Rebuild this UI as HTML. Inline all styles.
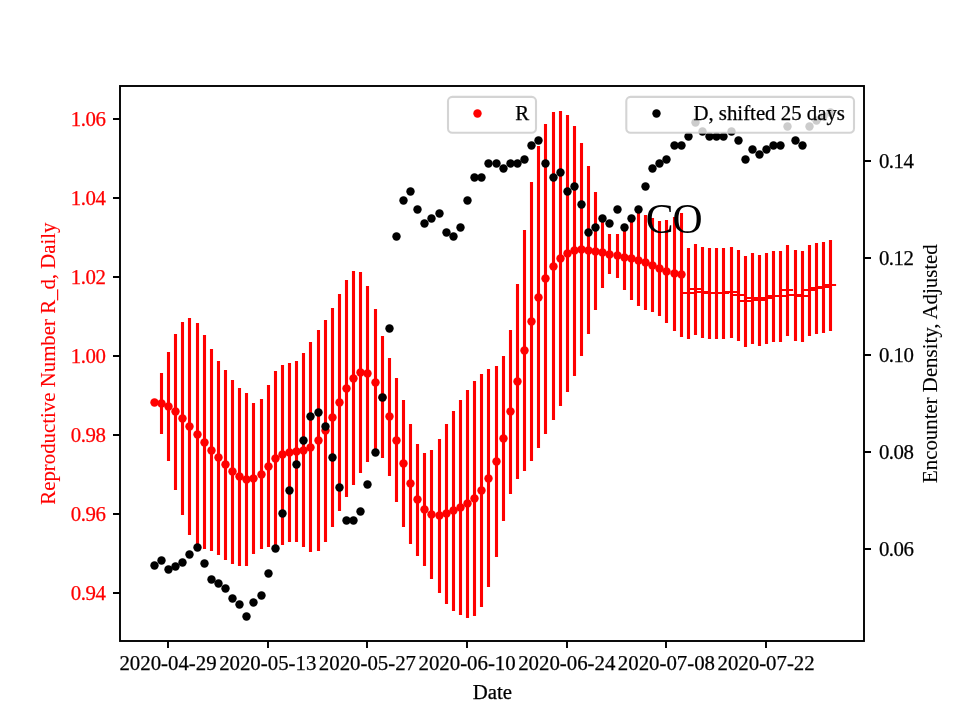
<!DOCTYPE html>
<html><head><meta charset="utf-8"><title>chart</title>
<style>
html,body{margin:0;padding:0;background:#fff;}
body{width:960px;height:720px;overflow:hidden;}
svg{display:block;will-change:transform;}
svg text{font-family:"Liberation Serif",serif;stroke-width:0.25px;paint-order:stroke;}
</style></head><body>
<svg width="960" height="720" viewBox="0 0 960 720">
<rect width="960" height="720" fill="#fff"/>
<path d="M161.50 373V434M168.50 352V461M175.50 334V490M182.50 322V515M189.50 318V535M197.50 323V546M204.50 335V549M211.50 349V551M218.50 361V555M225.50 370V560M232.50 380V564M239.50 388V566M246.50 393V566M253.50 403V554M261.50 399V549M268.50 385V547M275.50 371V546M282.50 365V545M289.50 363V542M296.50 361V542M303.50 353V547M310.50 342V552M318.50 330V551M325.50 320V542M332.50 308V527M339.50 294V511M346.50 280V497M353.50 271V485M360.50 272V473M367.50 286V462M375.50 309V456M382.50 336V458M389.50 358V476M396.50 378V502M403.50 400V527M410.50 424V544M417.50 444V556M424.50 453V566M431.50 450V579M439.50 439V593M446.50 424V604M453.50 411V611M460.50 400V615M467.50 390V618M474.50 381V616M481.50 374V607M488.50 369V587M496.50 366V557M503.50 356V521M510.50 330V494M517.50 284V479M524.50 230V471M531.50 182V461M538.50 146V448M545.50 124V434M553.50 112V420M560.50 111V406M567.50 115V392M574.50 126V376M581.50 143V356M588.50 166V334M595.50 192V310M602.50 220V288M609.50 234V274M617.50 234V278M624.50 225V290M631.50 218V300M638.50 213V306M645.50 215V310M652.50 218V312M659.50 221V316M666.50 220V323M674.50 217V331M681.50 213V337M688.50 248.00V339.00M695.50 244.00V335.00M702.50 247.00V338.00M709.50 248.00V339.00M716.50 248.00V339.00M723.50 248.00V339.00M731.50 247.00V338.00M738.50 250.00V341.00M745.50 256.00V347.00M752.50 253.00V344.00M759.50 255.00V346.00M766.50 253.00V344.00M773.50 251.00V342.00M780.50 251.00V342.00M787.50 245.00V336.00M795.50 250.00V341.00M802.50 251.00V342.00M809.50 245.00V336.00M816.50 243.00V334.00M823.50 242.00V333.00M830.50 240.00V331.00" stroke="#ff0000" stroke-width="3.1" fill="none"/>
<g fill="#ff0000">
<circle cx="154.50" cy="402.50" r="4.2"/>
<circle cx="161.50" cy="403.50" r="4.2"/>
<circle cx="168.50" cy="406.50" r="4.2"/>
<circle cx="175.50" cy="411.50" r="4.2"/>
<circle cx="182.50" cy="418.50" r="4.2"/>
<circle cx="189.50" cy="426.50" r="4.2"/>
<circle cx="197.50" cy="434.50" r="4.2"/>
<circle cx="204.50" cy="442.50" r="4.2"/>
<circle cx="211.50" cy="450.50" r="4.2"/>
<circle cx="218.50" cy="457.50" r="4.2"/>
<circle cx="225.50" cy="464.50" r="4.2"/>
<circle cx="232.50" cy="471.50" r="4.2"/>
<circle cx="239.50" cy="476.50" r="4.2"/>
<circle cx="246.50" cy="479.50" r="4.2"/>
<circle cx="253.50" cy="478.50" r="4.2"/>
<circle cx="261.50" cy="474.50" r="4.2"/>
<circle cx="268.50" cy="466.50" r="4.2"/>
<circle cx="275.50" cy="458.50" r="4.2"/>
<circle cx="282.50" cy="454.50" r="4.2"/>
<circle cx="289.50" cy="452.50" r="4.2"/>
<circle cx="296.50" cy="451.50" r="4.2"/>
<circle cx="303.50" cy="450.50" r="4.2"/>
<circle cx="310.50" cy="447.50" r="4.2"/>
<circle cx="318.50" cy="440.50" r="4.2"/>
<circle cx="325.50" cy="430.50" r="4.2"/>
<circle cx="332.50" cy="417.50" r="4.2"/>
<circle cx="339.50" cy="402.50" r="4.2"/>
<circle cx="346.50" cy="388.50" r="4.2"/>
<circle cx="353.50" cy="378.50" r="4.2"/>
<circle cx="360.50" cy="372.50" r="4.2"/>
<circle cx="367.50" cy="373.50" r="4.2"/>
<circle cx="375.50" cy="382.50" r="4.2"/>
<circle cx="382.50" cy="397.50" r="4.2"/>
<circle cx="389.50" cy="416.50" r="4.2"/>
<circle cx="396.50" cy="440.50" r="4.2"/>
<circle cx="403.50" cy="463.50" r="4.2"/>
<circle cx="410.50" cy="483.50" r="4.2"/>
<circle cx="417.50" cy="499.50" r="4.2"/>
<circle cx="424.50" cy="509.50" r="4.2"/>
<circle cx="431.50" cy="514.50" r="4.2"/>
<circle cx="439.50" cy="515.50" r="4.2"/>
<circle cx="446.50" cy="513.50" r="4.2"/>
<circle cx="453.50" cy="510.50" r="4.2"/>
<circle cx="460.50" cy="507.50" r="4.2"/>
<circle cx="467.50" cy="503.50" r="4.2"/>
<circle cx="474.50" cy="498.50" r="4.2"/>
<circle cx="481.50" cy="490.50" r="4.2"/>
<circle cx="488.50" cy="478.50" r="4.2"/>
<circle cx="496.50" cy="461.50" r="4.2"/>
<circle cx="503.50" cy="438.50" r="4.2"/>
<circle cx="510.50" cy="411.50" r="4.2"/>
<circle cx="517.50" cy="381.50" r="4.2"/>
<circle cx="524.50" cy="350.50" r="4.2"/>
<circle cx="531.50" cy="321.50" r="4.2"/>
<circle cx="538.50" cy="297.50" r="4.2"/>
<circle cx="545.50" cy="278.50" r="4.2"/>
<circle cx="553.50" cy="266.50" r="4.2"/>
<circle cx="560.50" cy="258.50" r="4.2"/>
<circle cx="567.50" cy="253.50" r="4.2"/>
<circle cx="574.50" cy="250.50" r="4.2"/>
<circle cx="581.50" cy="249.50" r="4.2"/>
<circle cx="588.50" cy="250.50" r="4.2"/>
<circle cx="595.50" cy="251.50" r="4.2"/>
<circle cx="602.50" cy="252.50" r="4.2"/>
<circle cx="609.50" cy="254.50" r="4.2"/>
<circle cx="617.50" cy="255.50" r="4.2"/>
<circle cx="624.50" cy="257.50" r="4.2"/>
<circle cx="631.50" cy="258.50" r="4.2"/>
<circle cx="638.50" cy="260.50" r="4.2"/>
<circle cx="645.50" cy="262.50" r="4.2"/>
<circle cx="652.50" cy="265.50" r="4.2"/>
<circle cx="659.50" cy="268.50" r="4.2"/>
<circle cx="666.50" cy="271.50" r="4.2"/>
<circle cx="674.50" cy="273.50" r="4.2"/>
<circle cx="681.50" cy="274.50" r="4.2"/>
</g>
<path d="M681.90 293.00H694.10M688.90 289.00H701.10M695.90 292.00H708.10M702.90 293.00H715.10M709.90 293.00H722.10M716.90 293.00H729.10M724.90 292.00H737.10M731.90 295.00H744.10M738.90 301.00H751.10M745.90 298.00H758.10M752.90 300.00H765.10M759.90 298.00H772.10M766.90 296.00H779.10M773.90 296.00H786.10M780.90 290.00H793.10M788.90 295.00H801.10M795.90 296.00H808.10M802.90 290.00H815.10M809.90 288.00H822.10M816.90 287.00H829.10M823.90 285.00H836.10" stroke="#ff0000" stroke-width="2.08" fill="none"/>
<text stroke="#000" x="645.8" y="233.3" font-size="41.67" fill="#000" style="stroke-width:0" letter-spacing="-1.2">CO</text>
<rect x="120" y="86" width="744" height="555" fill="none" stroke="#000" stroke-width="1.9"/>
<text stroke="#000" x="168.06" y="669.7" font-size="20.83" text-anchor="middle">2020-04-29</text>
<text stroke="#000" x="267.73" y="669.7" font-size="20.83" text-anchor="middle">2020-05-13</text>
<text stroke="#000" x="367.41" y="669.7" font-size="20.83" text-anchor="middle">2020-05-27</text>
<text stroke="#000" x="467.08" y="669.7" font-size="20.83" text-anchor="middle">2020-06-10</text>
<text stroke="#000" x="566.76" y="669.7" font-size="20.83" text-anchor="middle">2020-06-24</text>
<text stroke="#000" x="666.43" y="669.7" font-size="20.83" text-anchor="middle">2020-07-08</text>
<text stroke="#000" x="766.11" y="669.7" font-size="20.83" text-anchor="middle">2020-07-22</text>
<text stroke="#ff0000" x="105.4" y="125.90" font-size="20.83" text-anchor="end" fill="#ff0000" letter-spacing="-0.45">1.06</text>
<text stroke="#ff0000" x="105.4" y="204.90" font-size="20.83" text-anchor="end" fill="#ff0000" letter-spacing="-0.45">1.04</text>
<text stroke="#ff0000" x="105.4" y="283.90" font-size="20.83" text-anchor="end" fill="#ff0000" letter-spacing="-0.45">1.02</text>
<text stroke="#ff0000" x="105.4" y="362.90" font-size="20.83" text-anchor="end" fill="#ff0000" letter-spacing="-0.45">1.00</text>
<text stroke="#ff0000" x="105.4" y="441.90" font-size="20.83" text-anchor="end" fill="#ff0000" letter-spacing="-0.45">0.98</text>
<text stroke="#ff0000" x="105.4" y="520.90" font-size="20.83" text-anchor="end" fill="#ff0000" letter-spacing="-0.45">0.96</text>
<text stroke="#ff0000" x="105.4" y="599.90" font-size="20.83" text-anchor="end" fill="#ff0000" letter-spacing="-0.45">0.94</text>
<text stroke="#000" x="878.9" y="167.90" font-size="20.83" fill="#000" letter-spacing="-0.45">0.14</text>
<text stroke="#000" x="878.9" y="264.90" font-size="20.83" fill="#000" letter-spacing="-0.45">0.12</text>
<text stroke="#000" x="878.9" y="361.90" font-size="20.83" fill="#000" letter-spacing="-0.45">0.10</text>
<text stroke="#000" x="878.9" y="458.90" font-size="20.83" fill="#000" letter-spacing="-0.45">0.08</text>
<text stroke="#000" x="878.9" y="555.90" font-size="20.83" fill="#000" letter-spacing="-0.45">0.06</text>
<path d="M168 641v7M268 641v7M367 641v7M467 641v7M567 641v7M666 641v7M766 641v7M120 119h-7M120 198h-7M120 277h-7M120 356h-7M120 435h-7M120 514h-7M120 593h-7M864 161h7M864 258h7M864 355h7M864 452h7M864 549h7" stroke="#000" stroke-width="1.9" fill="none"/>
<text stroke="#000" x="492.4" y="698.6" font-size="20.83" text-anchor="middle">Date</text>
<text stroke="#ff0000" transform="translate(54.5 363.6) rotate(-90)" font-size="20.83" text-anchor="middle" fill="#ff0000" style="stroke-width:0.1px">Reproductive Number R_d, Daily</text>
<text stroke="#000" transform="translate(936.8 363.6) rotate(-90)" font-size="20.83" text-anchor="middle" style="stroke-width:0.1px">Encounter Density, Adjusted</text>
<rect x="448" y="96.9" width="88" height="35.9" rx="4.2" fill="#fff" fill-opacity="0.8" stroke="#ccc" stroke-opacity="0.85" stroke-width="2.08"/>
<circle cx="477.5" cy="113.5" r="4.2" fill="#ff0000"/>
<text stroke="#000" x="515.2" y="119.7" font-size="20.83">R</text>
<g fill="#000">
<circle cx="154.50" cy="565.50" r="4.2"/>
<circle cx="161.50" cy="560.50" r="4.2"/>
<circle cx="168.50" cy="569.50" r="4.2"/>
<circle cx="175.50" cy="566.50" r="4.2"/>
<circle cx="182.50" cy="562.50" r="4.2"/>
<circle cx="189.50" cy="554.50" r="4.2"/>
<circle cx="197.50" cy="547.50" r="4.2"/>
<circle cx="204.50" cy="563.50" r="4.2"/>
<circle cx="211.50" cy="579.50" r="4.2"/>
<circle cx="218.50" cy="583.50" r="4.2"/>
<circle cx="225.50" cy="588.50" r="4.2"/>
<circle cx="232.50" cy="598.50" r="4.2"/>
<circle cx="239.50" cy="604.50" r="4.2"/>
<circle cx="246.50" cy="616.50" r="4.2"/>
<circle cx="253.50" cy="602.50" r="4.2"/>
<circle cx="261.50" cy="595.50" r="4.2"/>
<circle cx="268.50" cy="573.50" r="4.2"/>
<circle cx="275.50" cy="548.50" r="4.2"/>
<circle cx="282.50" cy="513.50" r="4.2"/>
<circle cx="289.50" cy="490.50" r="4.2"/>
<circle cx="296.50" cy="464.50" r="4.2"/>
<circle cx="303.50" cy="440.50" r="4.2"/>
<circle cx="310.50" cy="416.50" r="4.2"/>
<circle cx="318.50" cy="412.50" r="4.2"/>
<circle cx="325.50" cy="426.50" r="4.2"/>
<circle cx="332.50" cy="457.50" r="4.2"/>
<circle cx="339.50" cy="487.50" r="4.2"/>
<circle cx="346.50" cy="520.50" r="4.2"/>
<circle cx="353.50" cy="520.50" r="4.2"/>
<circle cx="360.50" cy="511.50" r="4.2"/>
<circle cx="367.50" cy="484.50" r="4.2"/>
<circle cx="375.50" cy="452.50" r="4.2"/>
<circle cx="382.50" cy="397.50" r="4.2"/>
<circle cx="389.50" cy="328.50" r="4.2"/>
<circle cx="396.50" cy="236.50" r="4.2"/>
<circle cx="403.50" cy="200.50" r="4.2"/>
<circle cx="410.50" cy="191.50" r="4.2"/>
<circle cx="417.50" cy="209.50" r="4.2"/>
<circle cx="424.50" cy="223.50" r="4.2"/>
<circle cx="431.50" cy="218.50" r="4.2"/>
<circle cx="439.50" cy="213.50" r="4.2"/>
<circle cx="446.50" cy="232.50" r="4.2"/>
<circle cx="453.50" cy="236.50" r="4.2"/>
<circle cx="460.50" cy="227.50" r="4.2"/>
<circle cx="467.50" cy="200.50" r="4.2"/>
<circle cx="474.50" cy="177.50" r="4.2"/>
<circle cx="481.50" cy="177.50" r="4.2"/>
<circle cx="488.50" cy="163.50" r="4.2"/>
<circle cx="496.50" cy="163.50" r="4.2"/>
<circle cx="503.50" cy="168.50" r="4.2"/>
<circle cx="510.50" cy="163.50" r="4.2"/>
<circle cx="517.50" cy="163.50" r="4.2"/>
<circle cx="524.50" cy="159.50" r="4.2"/>
<circle cx="531.50" cy="145.50" r="4.2"/>
<circle cx="538.50" cy="140.50" r="4.2"/>
<circle cx="545.50" cy="163.50" r="4.2"/>
<circle cx="553.50" cy="177.50" r="4.2"/>
<circle cx="560.50" cy="172.50" r="4.2"/>
<circle cx="567.50" cy="191.50" r="4.2"/>
<circle cx="574.50" cy="186.50" r="4.2"/>
<circle cx="581.50" cy="204.50" r="4.2"/>
<circle cx="588.50" cy="232.50" r="4.2"/>
<circle cx="595.50" cy="227.50" r="4.2"/>
<circle cx="602.50" cy="218.50" r="4.2"/>
<circle cx="609.50" cy="223.50" r="4.2"/>
<circle cx="617.50" cy="209.50" r="4.2"/>
<circle cx="624.50" cy="227.50" r="4.2"/>
<circle cx="631.50" cy="218.50" r="4.2"/>
<circle cx="638.50" cy="209.50" r="4.2"/>
<circle cx="645.50" cy="186.50" r="4.2"/>
<circle cx="652.50" cy="168.50" r="4.2"/>
<circle cx="659.50" cy="163.50" r="4.2"/>
<circle cx="666.50" cy="159.50" r="4.2"/>
<circle cx="674.50" cy="145.50" r="4.2"/>
<circle cx="681.50" cy="145.50" r="4.2"/>
<circle cx="688.50" cy="136.50" r="4.2"/>
<circle cx="695.50" cy="122.50" r="4.2"/>
<circle cx="702.50" cy="131.50" r="4.2"/>
<circle cx="709.50" cy="136.50" r="4.2"/>
<circle cx="716.50" cy="136.50" r="4.2"/>
<circle cx="723.50" cy="136.50" r="4.2"/>
<circle cx="731.50" cy="131.50" r="4.2"/>
<circle cx="738.50" cy="140.50" r="4.2"/>
<circle cx="745.50" cy="159.50" r="4.2"/>
<circle cx="752.50" cy="149.50" r="4.2"/>
<circle cx="759.50" cy="154.50" r="4.2"/>
<circle cx="766.50" cy="149.50" r="4.2"/>
<circle cx="773.50" cy="145.50" r="4.2"/>
<circle cx="780.50" cy="145.50" r="4.2"/>
<circle cx="787.50" cy="126.50" r="4.2"/>
<circle cx="795.50" cy="140.50" r="4.2"/>
<circle cx="802.50" cy="145.50" r="4.2"/>
<circle cx="809.50" cy="126.50" r="4.2"/>
<circle cx="816.50" cy="120.50" r="4.2"/>
<circle cx="823.50" cy="116.50" r="4.2"/>
<circle cx="830.50" cy="112.50" r="4.2"/>
</g>
<rect x="626.3" y="96.9" width="227.7" height="35.9" rx="4.2" fill="#fff" fill-opacity="0.8" stroke="#ccc" stroke-opacity="0.85" stroke-width="2.08"/>
<circle cx="656.5" cy="113.5" r="4.2" fill="#000"/>
<text stroke="#000" x="693.4" y="119.7" font-size="20.83">D, shifted 25 days</text>
</svg>
</body></html>
